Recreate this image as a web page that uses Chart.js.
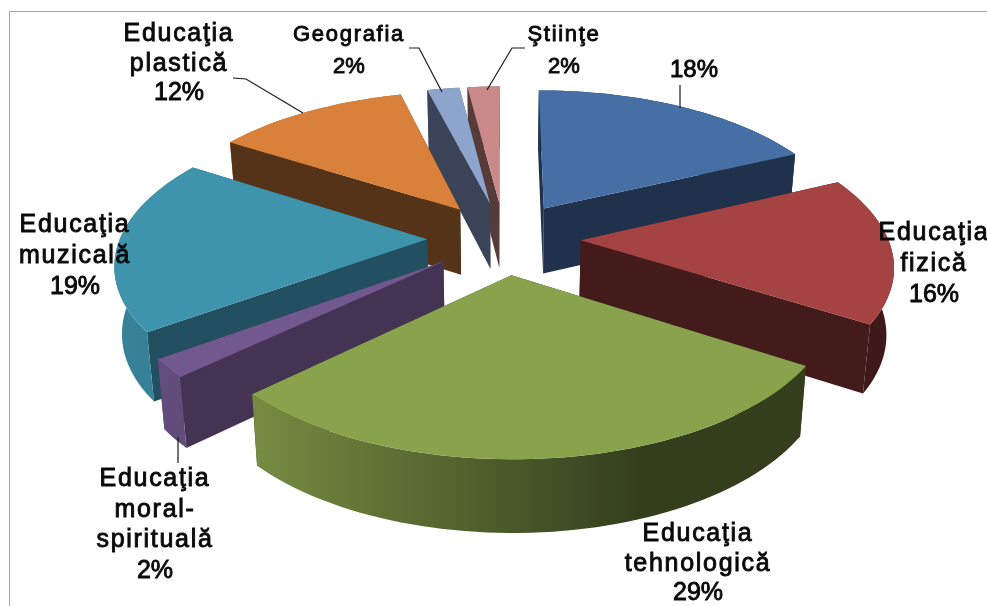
<!DOCTYPE html>
<html>
<head>
<meta charset="utf-8">
<title>Educaţia</title>
<style>
  html, body { margin: 0; padding: 0; background: #fff; }
  #wrap { width: 987px; height: 606px; }
</style>
<script src="https://cdn.jsdelivr.net/npm/chart.js@4/dist/chart.umd.min.js"></script>
</head>
<body>
<div id="wrap"><canvas id="grafic"></canvas></div>
<script>
// Date
const categorii = [
    [],
    ['Educaţia', 'fizică'],
    ['Educaţia', 'tehnologică'],
    ['Educaţia', 'moral-', 'spirituală'],
    ['Educaţia', 'muzicală'],
    ['Educaţia', 'plastică'],
    ['Geografia'],
    ['Ştiinţe']
];
const valori = [18, 16, 29, 2, 19, 12, 2, 2];

// Culori: fata de sus si peretii taieturii
const culoriSus = ['#456fa5', '#a54343', '#88a34c', '#71588f', '#3f94ad', '#d9803a', '#8da5cc', '#cb8a8a'];
const culoriPerete = ['#1f314b', '#441b1b', '#33401c', '#443353', '#235060', '#553318', '#3a4358', '#583a3a'];

// Etichete: centru pe x, prima linie de baza, pas intre linii, font
const etichetaX = [694, 934, 698, 155, 75, 179, 349, 564];
const etichetaY = [77, 240, 541, 486, 232, 41, 41, 41];
const etichetaPas = [30, 31, 29.5, 30.5, 31, 29.5, 32, 32];
const etichetaFont = [24, 25, 25, 25, 25, 25, 22, 22];

// Liniile de legatura catre felii
const linii = [
    [[233, 78], [246, 79], [303, 113]],
    [[409, 48], [419, 48], [442, 92]],
    [[525, 48], [512, 48], [487, 90]],
    [[680, 85], [680, 108]],
    [[178, 437], [178, 463]]
];

// "Camera" pentru aspectul 3D
const cam = { x0: 504, y0: 238, a: 307, b: 144, k: 0.15, explodare: 0.25 };
const jos = { y0: 304, a: 301, b: 149 };

const proiecteaza = (u, v, plan) => {
    const w = 1 - cam.k * v;
    return [cam.x0 + plan.a * u / w, plan.y0 + plan.b * v / w];
};

// intuneca o culoare hex cu un factor
const umbra = (hex, f) => {
    const n = parseInt(hex.slice(1), 16);
    const c = [n >> 16, (n >> 8) & 255, n & 255].map(x => Math.round(x * f));
    return `rgb(${c[0]},${c[1]},${c[2]})`;
};

const umple = (ctx, puncte, culoare) => {
    ctx.beginPath();
    puncte.forEach((p, i) => (i ? ctx.lineTo(p[0], p[1]) : ctx.moveTo(p[0], p[1])));
    ctx.closePath();
    ctx.fillStyle = culoare;
    ctx.fill();
};

const desenFelie = (ctx, arc, i) => {
    const mid = (arc.startAngle + arc.endAngle) / 2;
    const cx = Math.cos(mid) * cam.explodare;
    const cy = Math.sin(mid) * cam.explodare;
    const sus = { y0: cam.y0, a: cam.a, b: cam.b };
    const pas = Math.max(4, Math.ceil((arc.endAngle - arc.startAngle) / 0.03));

    const unghiuri = [];
    for (let s = 0; s <= pas; s++) {
        unghiuri.push(arc.startAngle + (arc.endAngle - arc.startAngle) * s / pas);
    }
    const pe = (u, plan) => proiecteaza(cx + Math.cos(u), cy + Math.sin(u), plan);
    const centruSus = proiecteaza(cx, cy, sus);
    const centruJos = proiecteaza(cx, cy, jos);

    const grad = ctx.createLinearGradient(120, 0, 700, 0);
    grad.addColorStop(0, umbra(culoriSus[i], 0.88));
    grad.addColorStop(0.24, umbra(culoriSus[i], 0.85));
    grad.addColorStop(0.9, umbra(culoriSus[i], 0.38));
    grad.addColorStop(1, umbra(culoriSus[i], 0.38));

    // peretele exterior, dintr-o bucata; partea din spate inainte, cea din fata dupa
    const perete = (spate) => {
        const parte = [];
        for (let s = 0; s < pas; s++) {
            if ((Math.sin((unghiuri[s] + unghiuri[s + 1]) / 2) < 0) !== spate) continue;
            if (!parte.length) parte.push(unghiuri[s]);
            parte.push(unghiuri[s + 1]);
        }
        if (parte.length < 2) return;
        const contur = parte.map(u => pe(u, sus)).concat(parte.slice().reverse().map(u => pe(u, jos)));
        umple(ctx, contur, grad);
    };

    perete(true);
    umple(ctx, [centruSus, pe(arc.startAngle, sus), pe(arc.startAngle, jos), centruJos], culoriPerete[i]);
    umple(ctx, [centruSus, pe(arc.endAngle, sus), pe(arc.endAngle, jos), centruJos], culoriPerete[i]);
    perete(false);
    umple(ctx, [centruSus].concat(unghiuri.map(u => pe(u, sus))), culoriSus[i]);
};

// Plugin: deseneaza feliile din arcele calculate de Chart.js, cu perspectiva
const feliiPlugin = {
    id: 'felii3d',
    beforeDatasetsDraw(chart) {
        const ctx = chart.ctx;
        const arce = chart.getDatasetMeta(0).data;
        const ordine = arce.map((a, i) => i).sort((p, q) => {
            const mp = (arce[p].startAngle + arce[p].endAngle) / 2;
            const mq = (arce[q].startAngle + arce[q].endAngle) / 2;
            return Math.sin(mp) - Math.sin(mq);
        });
        ctx.save();
        ordine.forEach(i => desenFelie(ctx, arce[i], i));
        ctx.restore();
        return false;
    },
    afterDraw(chart) {
        const ctx = chart.ctx;
        ctx.save();

        // chenar
        ctx.strokeStyle = '#a3a3a3';
        ctx.lineWidth = 1;
        ctx.beginPath();
        ctx.moveTo(9.5, 606);
        ctx.lineTo(9.5, 11.5);
        ctx.lineTo(987, 11.5);
        ctx.stroke();

        // linii de legatura
        ctx.strokeStyle = '#1a1a1a';
        ctx.lineWidth = 1.2;
        linii.forEach(l => {
            ctx.beginPath();
            l.forEach((p, i) => (i ? ctx.lineTo(p[0], p[1]) : ctx.moveTo(p[0], p[1])));
            ctx.stroke();
        });

        // etichete: regular ingrosat putin, ca in original
        ctx.fillStyle = '#0a0a0a';
        ctx.strokeStyle = '#0a0a0a';
        ctx.lineWidth = 0.9;
        ctx.textAlign = 'center';
        ctx.textBaseline = 'alphabetic';
        categorii.forEach((rand, i) => {
            ctx.font = `${etichetaFont[i]}px "Liberation Sans", Arial, sans-serif`;
            const scrie = (t, y) => {
                ctx.fillText(t, etichetaX[i], y);
                ctx.strokeText(t, etichetaX[i], y);
            };
            ctx.letterSpacing = '1.7px';
            rand.forEach((t, j) => scrie(t, etichetaY[i] + j * etichetaPas[i]));
            ctx.letterSpacing = '0px';
            scrie(valori[i] + '%', etichetaY[i] + rand.length * etichetaPas[i]);
        });
        ctx.restore();
    }
};

document.addEventListener('DOMContentLoaded', () => {
    new Chart(document.getElementById('grafic'), {
        type: 'pie',
        data: {
            labels: categorii.map(c => c.join(' ')),
            datasets: [{ data: valori, backgroundColor: culoriSus, borderWidth: 0 }]
        },
        options: {
            responsive: true,
            maintainAspectRatio: false,
            animation: false,
            events: [],
            rotation: 0,
            plugins: {
                legend: { display: false },
                tooltip: { enabled: false }
            }
        },
        plugins: [feliiPlugin]
    });
});
</script>
</body>
</html>
